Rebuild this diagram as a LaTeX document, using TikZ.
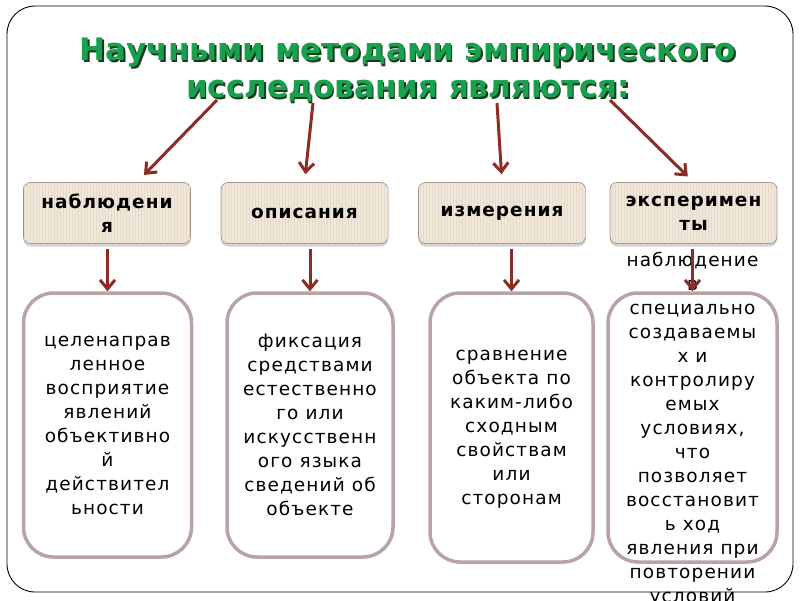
\documentclass[tikz,border=0pt]{standalone}
\usepackage{fontspec}
\setmainfont{DejaVu Sans}
\newfontfamily\boxfont[LetterSpace=6]{DejaVu Sans}
\newfontfamily\headboxfont[LetterSpace=5.5]{DejaVu Sans}
\usepackage{tikz}
\usetikzlibrary{arrows.meta,positioning,shadows,patterns,calc}

\definecolor{titlegreen}{RGB}{24,160,78}
\definecolor{titleshade}{RGB}{22,58,30}
\definecolor{arrowred}{RGB}{140,44,36}
\definecolor{tanfill}{RGB}{240,231,217}
\definecolor{tanline}{RGB}{160,145,130}
\definecolor{tanstripe}{RGB}{228,218,204}
\definecolor{roseline}{RGB}{184,164,164}

\tikzset{
    method/.style={draw=tanline, line width=0.8pt, fill=tanfill, rounded corners=7pt,
        minimum width=167pt, minimum height=61pt, align=center,
        drop shadow={shadow xshift=0pt, shadow yshift=-3pt, opacity=0.35},
        postaction={pattern=vertical lines, pattern color=tanstripe},
        font=\headboxfont\bfseries\fontsize{18.5}{24}\selectfont},
    defbox/.style={draw=roseline, line width=3.5pt, fill=white, rounded corners=30pt},
    deftext/.style={align=center, font=\boxfont\fontsize{18.5}{24}\selectfont},
    arr/.style={draw=arrowred, line width=3pt, -{Straight Barb[length=9pt, width=15pt]}},
}

\begin{document}
\begin{tikzpicture}[x=1pt, y=-1pt]
    \useasboundingbox (0, 0) rectangle (800, 600);
    \draw[line width=0.9pt, rounded corners=28pt] (7, 6) rectangle (793, 592);

    % title with its shadow
    \node[align=center, font=\bfseries\fontsize{31}{37}\selectfont, text=titleshade] at (409.5, 71.5) {Научными методами эмпирического\\исследования являются:};
    \node (title) [align=center, font=\bfseries\fontsize{31}{37}\selectfont, text=titlegreen] at (408, 70) {Научными методами эмпирического\\исследования являются:};

    \node (obs)  [method] at (107, 213)   {наблюдени\\я};
    \node (desc) [method] at (304.5, 213) {описания};
    \node (meas) [method] at (502, 213)   {измерения};
    \node (expt) [method] at (693.5, 213) {эксперимен\\ты};

    \node (obsdef)  [defbox, minimum width=168pt, minimum height=264pt] at (107.5, 425) {};
    \node (descdef) [defbox, minimum width=166pt, minimum height=264pt] at (310, 425) {};
    \node (measdef) [defbox, minimum width=163pt, minimum height=269pt] at (511.5, 427.5) {};
    \node (exptdef) [defbox, minimum width=169pt, minimum height=269pt] at (692.5, 427.5) {};

    \node (obstxt)  [deftext] at (obsdef)  {целенаправ\\ленное\\восприятие\\явлений\\объективно\\й\\действител\\ьности};
    \node (desctxt) [deftext] at (descdef) {фиксация\\средствами\\естественно\\го или\\искусственн\\ого языка\\сведений об\\объекте};
    \node (meastxt) [deftext] at ($(measdef)+(0,2)$) {сравнение\\объекта по\\каким-либо\\сходным\\свойствам\\или\\сторонам};
    \node (expttxt) [deftext] at ($(exptdef)+(0,2)$) {наблюдение\\в\\специально\\создаваемы\\х и\\контролиру\\емых\\условиях,\\что\\позволяет\\восстановит\\ь ход\\явления при\\повторении\\условий};

    \coordinate (t1) at (217, 100);
    \coordinate (t2) at (313, 103);
    \coordinate (t3) at (497, 103);
    \coordinate (t4) at (610, 100);

    \draw[arr, shorten >=10pt] (t1) -- (obs);
    \draw[arr, shorten >=8pt] (t2) -- (desc.north);
    \draw[arr, shorten >=8pt] (t3) -- (meas.north);
    \draw[arr, shorten >=8pt] (t4) -- (expt.north);

    \draw[arr, shorten <=5pt] (obs.south -| obsdef.north) -- (obsdef.north);
    \draw[arr, shorten <=5pt] (desc.south -| descdef.north) -- (descdef.north);
    \draw[arr, shorten <=5pt] (meas.south -| measdef.north) -- (measdef.north);
    \draw[arr, shorten <=5pt] (expt.south -| exptdef.north) -- (exptdef.north);
\end{tikzpicture}
\end{document}
